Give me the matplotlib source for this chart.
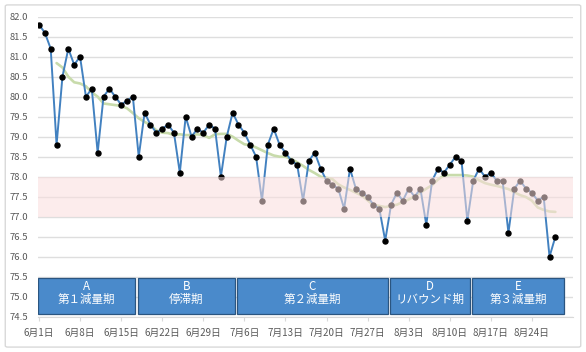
import numpy as np
import pandas as pd
import matplotlib
matplotlib.use('Agg')
import matplotlib.pyplot as plt
import matplotlib.dates as mdates
from matplotlib.patches import Rectangle, FancyBboxPatch
from matplotlib.ticker import FuncFormatter, MultipleLocator

plt.rcParams['font.family'] = ['Noto Sans CJK JP', 'DejaVu Sans']

# daily weight, 6/1 .. 8/28
start_date = '2019-06-01'
weight = [81.8, 81.6, 81.2, 78.8, 80.5, 81.2, 80.8, 81.0, 80.0, 80.2,
          78.6, 80.0, 80.2, 80.0, 79.8, 79.9, 80.0, 78.5, 79.6, 79.3,
          79.1, 79.2, 79.3, 79.1, 78.1, 79.5, 79.0, 79.2, 79.1, 79.3,
          79.2, 78.0, 79.0, 79.6, 79.3, 79.1, 78.8, 78.5, 77.4, 78.8,
          79.2, 78.8, 78.6, 78.4, 78.3, 77.4, 78.4, 78.6, 78.2, 77.9,
          77.8, 77.7, 77.2, 78.2, 77.7, 77.6, 77.5, 77.3, 77.2, 76.4,
          77.3, 77.6, 77.4, 77.7, 77.5, 77.7, 76.8, 77.9, 78.2, 78.1,
          78.3, 78.5, 78.4, 76.9, 77.9, 78.2, 78.0, 78.1, 77.9, 77.9,
          76.6, 77.7, 77.9, 77.7, 77.6, 77.4, 77.5, 76.0, 76.5]

# smoothed trend (green), begins on day 4 (6/4)
trend_offset = 3
trend = [80.84, 80.73, 80.50, 80.36, 80.33, 80.26, 80.11, 80.00, 79.83, 79.81,
         79.79, 79.77, 79.71, 79.59, 79.46, 79.37, 79.29, 79.16, 79.10, 79.09,
         79.04, 79.06, 79.04, 79.04, 79.06, 79.04, 78.97, 79.06, 79.07, 79.07,
         79.00, 78.90, 78.81, 78.79, 78.73, 78.66, 78.59, 78.53, 78.50, 78.50,
         78.44, 78.36, 78.27, 78.17, 78.09, 78.00, 77.97, 77.94, 77.81, 77.73,
         77.67, 77.60, 77.53, 77.41, 77.29, 77.27, 77.24, 77.27, 77.30, 77.37,
         77.43, 77.51, 77.60, 77.70, 77.79, 77.93, 78.03, 78.04, 78.04, 78.04,
         78.03, 78.00, 77.91, 77.84, 77.80, 77.77, 77.73, 77.69, 77.61, 77.54,
         77.49, 77.40, 77.23, 77.17, 77.13, 77.12]

# phases: boundaries (first day of each phase, last entry = end)
phase_edges = ['2019-06-01', '2019-06-18', '2019-07-05', '2019-07-31', '2019-08-14', '2019-08-30']
phase_letters = ['A', 'B', 'C', 'D', 'E']
phase_names = ['第１減量期', '停滞期', '第２減量期', 'リバウンド期', '第３減量期']

target_band = (77.0, 78.0)

dates = pd.date_range(start_date, periods=len(weight), freq='D')
trend_dates = dates[trend_offset:trend_offset + len(trend)]
tick_dates = pd.date_range(start_date, periods=13, freq='7D')

fig = plt.figure(figsize=(5.86, 3.52), dpi=100)
ax = fig.add_axes([0.0648, 0.1003, 0.9130, 0.8523])

# outer chart frame
fig.patches.append(FancyBboxPatch((0.009, 0.014), 0.982, 0.972,
                                  boxstyle='round,pad=0,rounding_size=0.004',
                                  transform=fig.transFigure, fill=False,
                                  edgecolor='#d9d9d9', linewidth=1.0))

ax.plot(trend_dates, trend, color='#c8dbab', linewidth=1.9, zorder=2,
        solid_capstyle='round')
ax.plot(dates, weight, color='#4281c0', linewidth=1.4, zorder=3)
ax.plot(dates, weight, linestyle='none', marker='o', markersize=3.6,
        markerfacecolor='black', markeredgecolor='black', zorder=4)

# translucent band over the data
ax.axhspan(target_band[0], target_band[1], color='#fbdede', alpha=0.55,
           linewidth=0, zorder=5)

# phase boxes
edges = mdates.date2num(pd.to_datetime(phase_edges))
for i, letter in enumerate(phase_letters):
    x0 = edges[i] - 0.2
    x1 = edges[i + 1] - 0.6
    ax.add_patch(Rectangle((x0, 74.57), x1 - x0, 0.89, facecolor='#4a8acb',
                           edgecolor='#2b5580', linewidth=0.9, zorder=6))
    xc = (x0 + x1) / 2
    ax.text(xc, 75.25, letter, color='white', ha='center', va='center',
            fontsize=8.3, zorder=7)
    ax.text(xc, 74.93, phase_names[i], color='white', ha='center', va='center',
            fontsize=8.3, zorder=7)

ax.set_ylim(74.5, 82.0)
ax.yaxis.set_major_locator(MultipleLocator(0.5))
ax.yaxis.set_major_formatter(FuncFormatter(lambda v, p: '%.1f' % v))
ax.set_xlim(mdates.date2num(dates[0]) - 0.17, mdates.date2num(dates[0]) + 91.0)
ax.set_xticks(mdates.date2num(tick_dates))
ax.set_xticklabels(['%d月%d日' % (d.month, d.day) for d in tick_dates])

ax.grid(axis='y', color='#dedede', linewidth=1.0, zorder=0)
ax.set_axisbelow(True)
for s in ['top', 'right', 'left']:
    ax.spines[s].set_visible(False)
ax.spines['bottom'].set_color('#d9d9d9')
ax.tick_params(axis='y', length=0, pad=7, labelsize=6.8, labelcolor='#595959')
ax.tick_params(axis='x', length=3, color='#d9d9d9', pad=5, labelsize=7,
               labelcolor='#595959')

fig.savefig('out.png', dpi=100, facecolor='white')
